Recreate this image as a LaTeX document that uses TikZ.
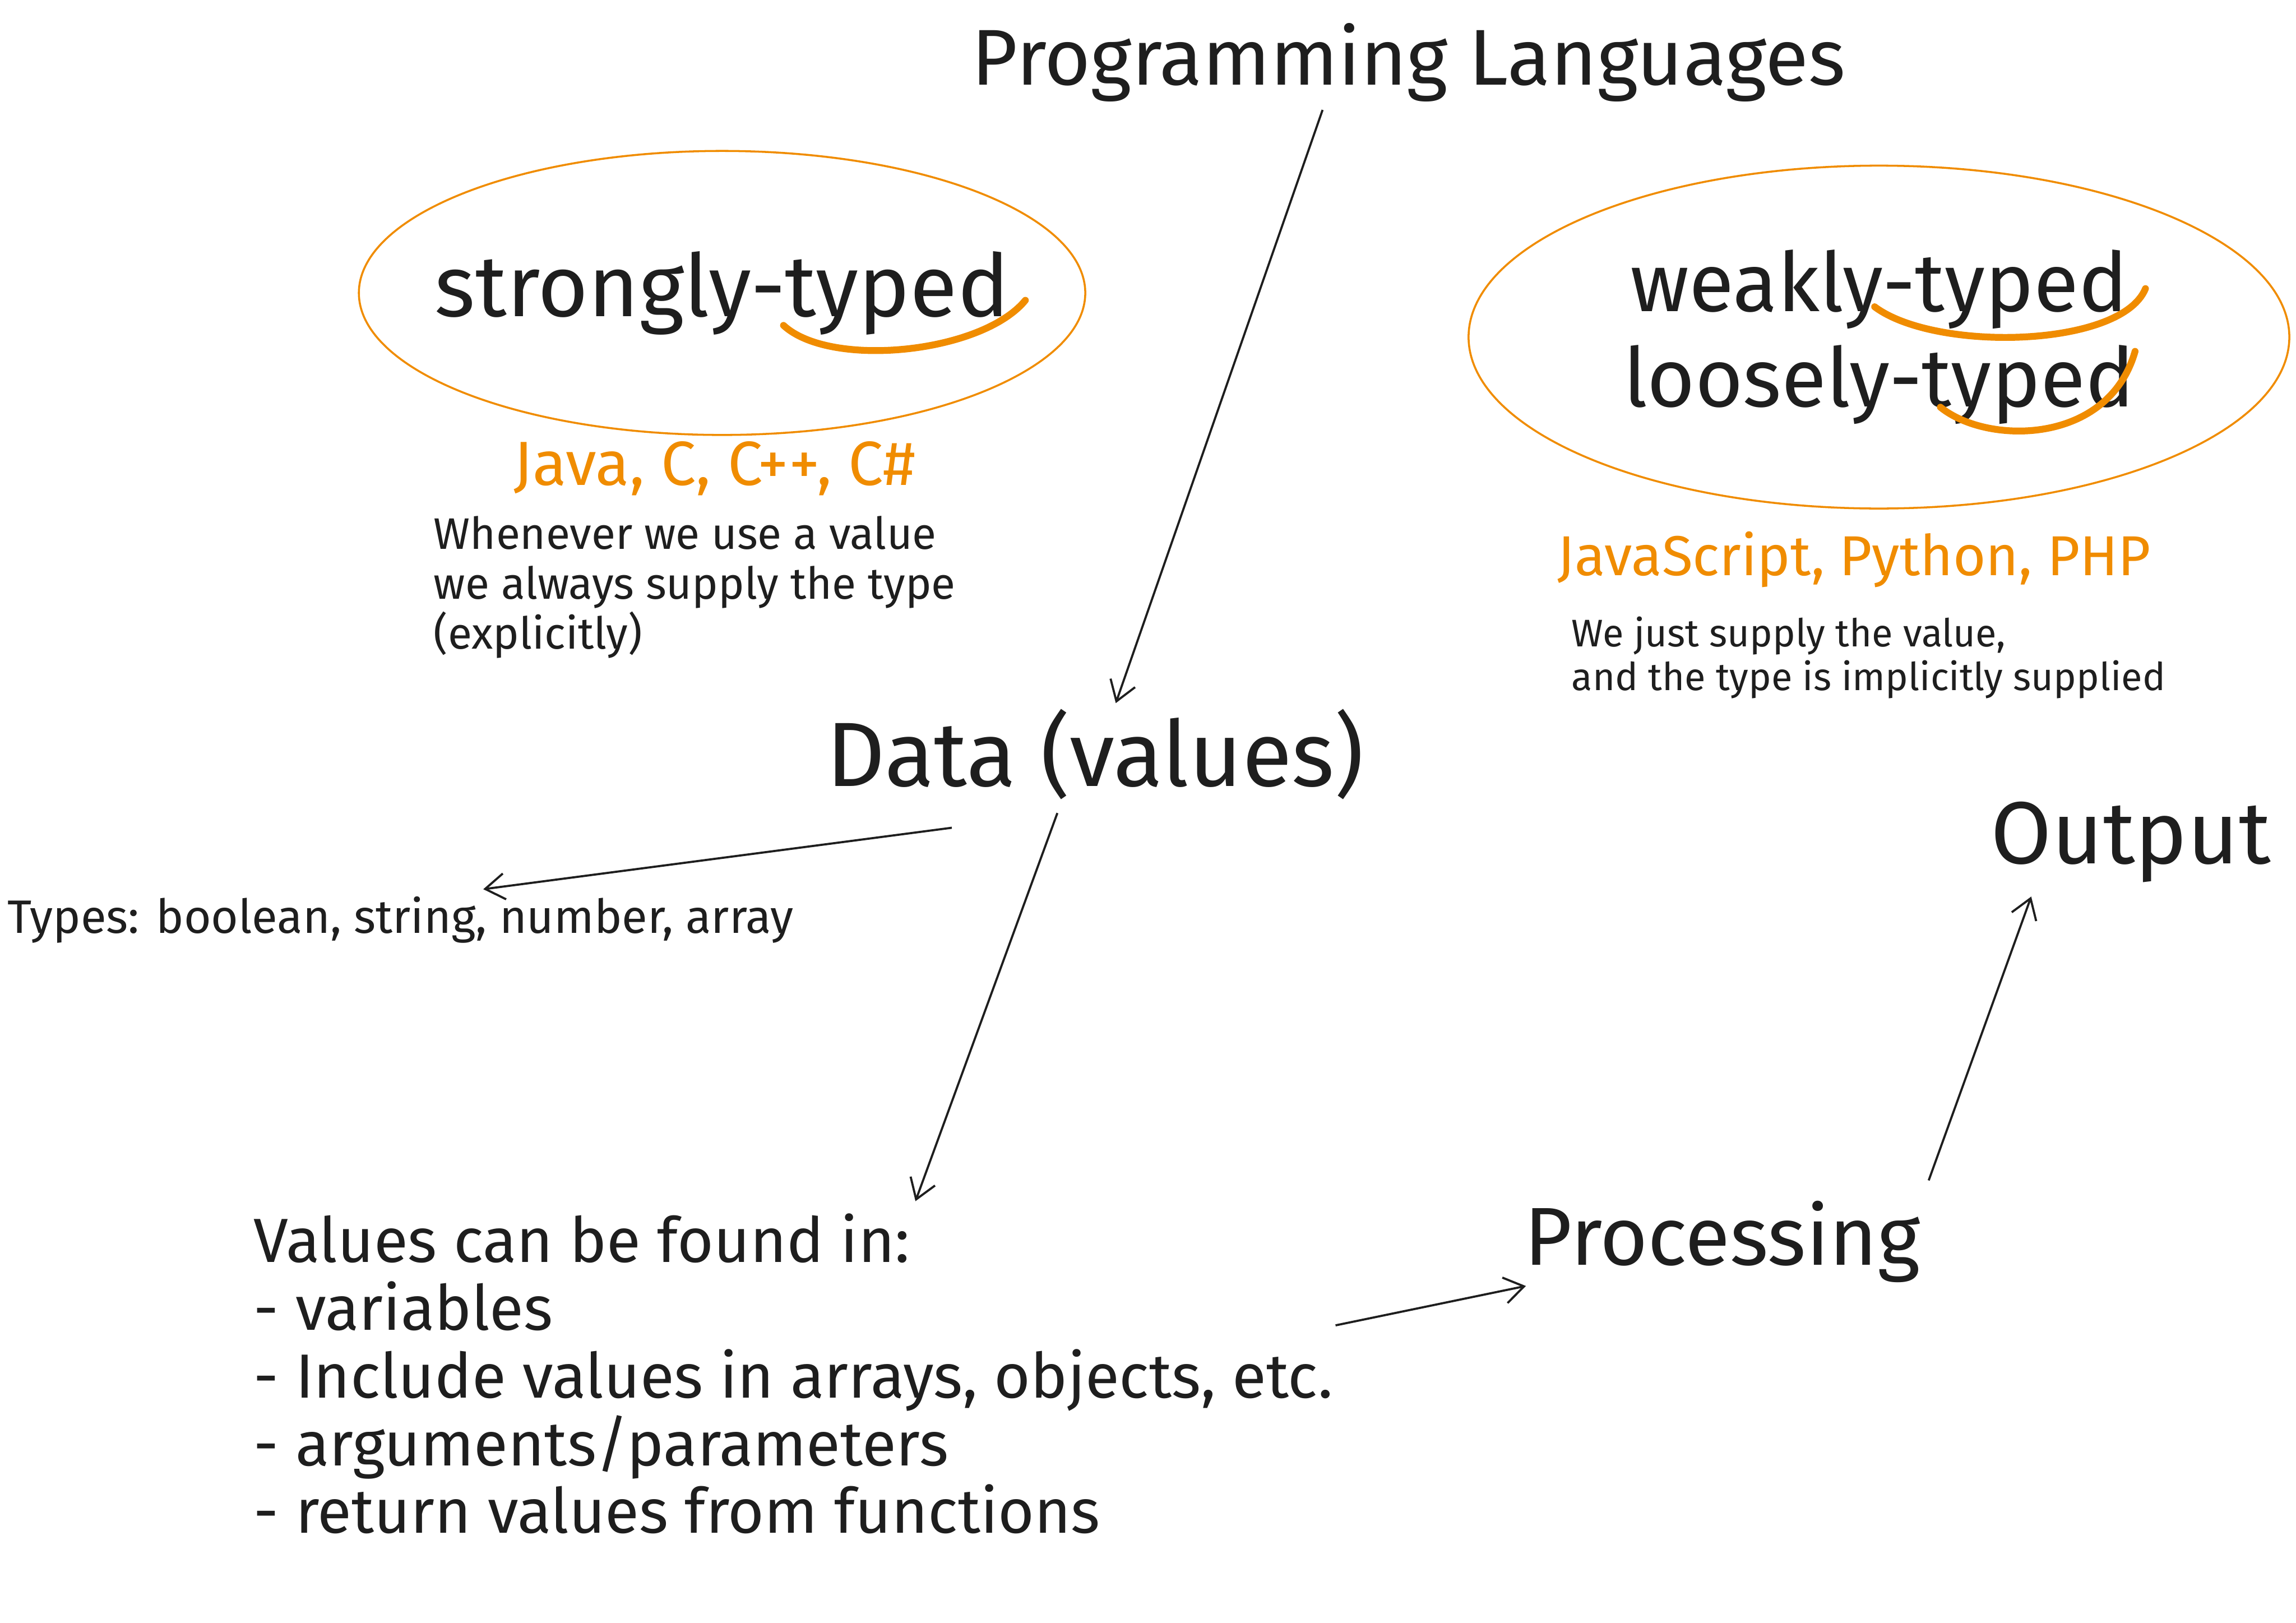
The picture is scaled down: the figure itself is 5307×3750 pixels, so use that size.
\documentclass[tikz,border=0pt]{standalone}
\usepackage{fontspec}
\setmainfont{Fira Sans}
\usepackage{xcolor}
\usetikzlibrary{arrows.meta,shapes.geometric}
\definecolor{InkBlack}{HTML}{1E1E1E}
\definecolor{MarkerOrange}{HTML}{F08C00}
\newcommand{\fsz}[2]{\fontsize{#1pt}{#2pt}\selectfont}
\tikzset{
  head/.style={text=InkBlack,inner sep=0pt},
  bubble/.style={ellipse,draw=MarkerOrange,line width=1.3pt,inner sep=0pt,
              text=InkBlack,align=center},
  lang/.style={text=MarkerOrange,inner sep=0pt},
  note/.style={text=InkBlack,anchor=west,align=left,inner sep=0pt},
  swoosh/.style={draw=MarkerOrange,line width=4.5pt,line cap=round},
  arr/.style={-{Straight Barb[length=4.5mm,width=6mm]},line width=1.4pt,draw=InkBlack}
}
\begin{document}
\begin{tikzpicture}[x=0.01cm,y=-0.01cm]
  \useasboundingbox[fill=white] (0,0) rectangle (5307,3750);

  \node[head,font=\fsz{52}{60}] (title) at (3256,145) {Programming Languages};
  \node[bubble,minimum width=16.78cm,minimum height=6.56cm,font=\fsz{57}{66}] (strong) at (1669,677) {\makebox[0pt]{strongly-typed}};
  \node[bubble,minimum width=18.96cm,minimum height=7.92cm,font=\fsz{54}{62.5}] (weak) at (4343,779) {weakly-typed\\loosely-typed};
  \node[lang,font=\fsz{41}{46}] (strongex) at (1652,1083) {Java, C, C++, C\#};
  \node[lang,font=\fsz{37}{44}] (weakex) at (4286,1293) {JavaScript, Python, PHP};
  \node[note,font=\fsz{29}{32.7}] (strongnote) at (1002,1357) {Whenever we use a value\\we always supply the type\\(explicitly)};
  \node[note,font=\fsz{25.3}{29}] (weaknote) at (3632,1520) {We just supply the value,\\and the type is implicitly supplied};
  \node[head,font=\fsz{60}{70}] (data) at (2532,1743) {Data (values)};
  \node[note,font=\fsz{30.8}{36}] (types) at (17,2126) {Types: boolean, string, number, array};
  \node[head,font=\fsz{58}{66}] (output) at (4925,1946) {Output};
  \node[head,font=\fsz{54}{62}] (proc) at (3981,2870) {Processing};
  \node[note,font=\fsz{41}{44.5}] (found) at (586,3175) {Values can be found in:\\- variables\\- Include values in arrays, objects, etc.\\- arguments/parameters\\- return values from functions};

  \draw[swoosh] ([shift={(142,75)}]strong.center) .. controls ([shift={(250,175)}]strong.center) and ([shift={(600,140)}]strong.center) .. ([shift={(701,17)}]strong.center);
  \draw[swoosh] ([shift={(-10,-70)}]weak.center) .. controls ([shift={(130,35)}]weak.center) and ([shift={(560,25)}]weak.center) .. ([shift={(616,-112)}]weak.center);
  \draw[swoosh] ([shift={(142,162)}]weak.center) .. controls ([shift={(250,250)}]weak.center) and ([shift={(530,250)}]weak.center) .. ([shift={(592,33)}]weak.center);

  \draw[arr] ([shift={(-199,109)}]title.center) -- ([shift={(47,-118)}]data.center);
  \draw[arr] ([shift={(-332,170)}]data.center) -- ([shift={(1100,-71)}]types.west);
  \draw[arr] ([shift={(-88,136)}]data.center) -- ([shift={(1530,-399)}]found.west);
  \draw[arr] ([shift={(2501,-112)}]found.west) -- ([shift={(-454,102)}]proc.center);
  \draw[arr] ([shift={(477,-142)}]proc.center) -- ([shift={(-230,126)}]output.center);
\end{tikzpicture}
\end{document}
